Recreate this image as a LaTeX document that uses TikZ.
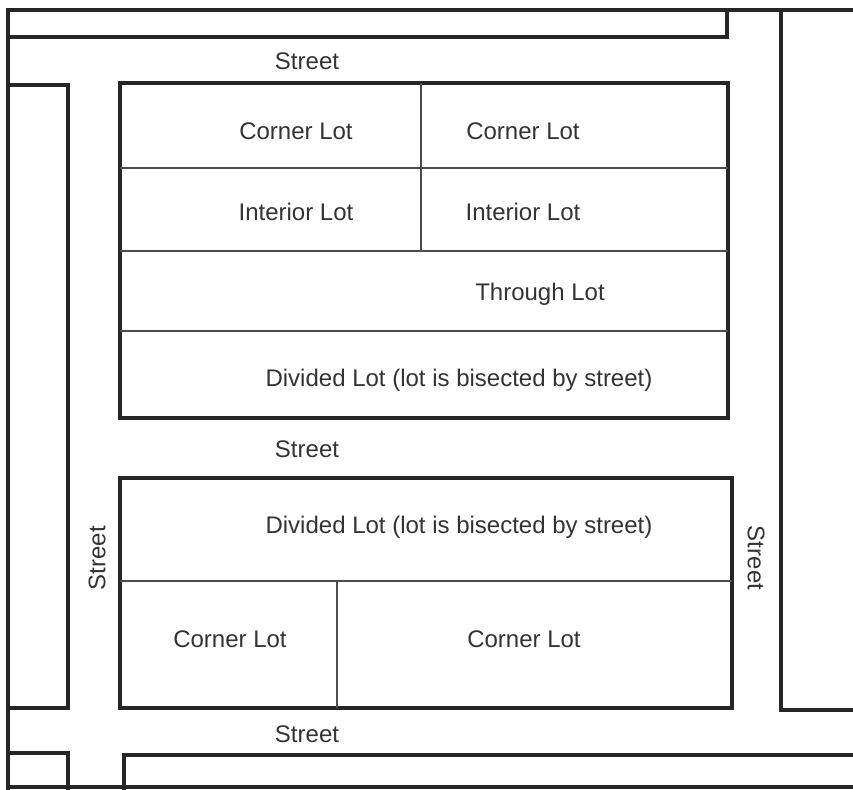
\documentclass[tikz,border=0pt]{standalone}
\usepackage{fontspec}
\setmainfont{Liberation Sans}
\begin{document}
\begin{tikzpicture}[x=1pt,y=-1pt,
  thickline/.style={line width=3.4pt, line cap=rect, line join=miter, draw=black!85},
  thinline/.style={line width=1.8pt, draw=black!70},
  lbl/.style={font=\fontsize{24}{28}\selectfont, text=black!80, inner sep=0pt}]
\useasboundingbox (0,0) rectangle (853,789);
% outer frame pieces
\draw[thickline] (8,789) -- (8,10) -- (853,10);
\draw[thickline] (8,37) -- (727,37) -- (727,10);
\draw[thickline] (8,85) -- (68,85) -- (68,708) -- (8,708);
\draw[thickline] (781,10) -- (781,710) -- (853,710);
\draw[thickline] (8,753) -- (68,753) -- (68,789);
\draw[thickline] (124,789) -- (124,755) -- (853,755);
\draw[thickline] (8,787) -- (853,787);
% upper block
\draw[thickline] (120,83) rectangle (728,418);
\draw[thinline] (120,168) -- (728,168);
\draw[thinline] (120,251) -- (728,251);
\draw[thinline] (120,331) -- (728,331);
\draw[thinline] (421,83) -- (421,251);
% lower block
\draw[thickline] (120,478) rectangle (732,708);
\draw[thinline] (120,581) -- (732,581);
\draw[thinline] (337,581) -- (337,708);
% labels
\node[lbl] (s1) at (307,61) {Street};
\node[lbl] (s2) at (307,449) {Street};
\node[lbl] (s3) at (307,734) {Street};
\node[lbl, rotate=90] (s4) at (97,558) {Street};
\node[lbl, rotate=-90] (s5) at (756,558) {Street};
\node[lbl] (c1) at (296,131) {Corner Lot};
\node[lbl] (c2) at (523,131) {Corner Lot};
\node[lbl] (i1) at (296,212) {Interior Lot};
\node[lbl] (i2) at (523,212) {Interior Lot};
\node[lbl] (t1) at (540,294) {Through Lot};
\node[lbl] (d1) at (459,380) {Divided Lot (lot is bisected by street)};
\node[lbl] (d2) at (459,527) {Divided Lot (lot is bisected by street)};
\node[lbl] (c3) at (230,639) {Corner Lot};
\node[lbl] (c4) at (524,639) {Corner Lot};
\end{tikzpicture}
\end{document}
